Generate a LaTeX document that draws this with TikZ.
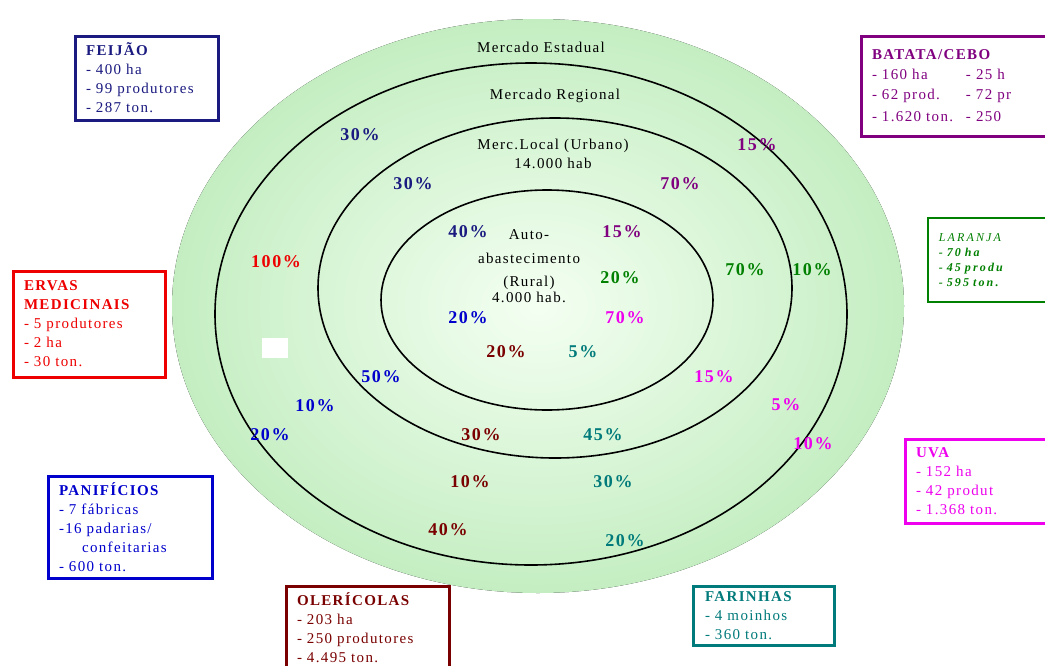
\documentclass[tikz,border=0pt]{standalone}
\usepackage{fontspec}
\setmainfont{Liberation Serif}[LetterSpace=9]
\usepackage{xcolor}
\definecolor{navy}{HTML}{1A1A80}
\definecolor{plum}{HTML}{800080}
\definecolor{leaf}{HTML}{008000}
\definecolor{herb-red}{HTML}{EE0000}
\definecolor{bread-blue}{HTML}{0000CC}
\definecolor{veg-red}{HTML}{7A0000}
\definecolor{flour-teal}{HTML}{007A7A}
\definecolor{grape}{HTML}{EE00EE}
\definecolor{mint}{HTML}{C4EEC2}
\definecolor{mint-core}{HTML}{F4FFF2}
\usepackage{tikz}
\tikzset{ring/.style = {draw, line width=1.6pt}}
\tikzset{ringlabel/.style = {align=center, font=\fontsize{15}{19}\selectfont}}
\tikzset{pct/.style = {font=\bfseries\fontsize{18}{18}\selectfont}}
\tikzset{infobox/.style = {draw, line width=3pt, anchor=north west, align=left, inner xsep=10pt, inner ysep=0pt, fill=white, font=\fontsize{15}{19}\selectfont}}

\begin{document}
\begin{tikzpicture}[x=1pt, y=-1pt]
\useasboundingbox (0,0) rectangle (1045,665);
\clip (0,0) rectangle (1045,665);

% market rings
\fill[inner color=mint-core, outer color=mint] (538,306) ellipse [x radius=366pt, y radius=287pt];
\draw[ring] (531,314) ellipse [x radius=316pt, y radius=251pt];
\draw[ring] (555,288) ellipse [x radius=237pt, y radius=170pt];
\draw[ring] (547,300) ellipse [x radius=166pt, y radius=110pt];
\fill[white] (262,338) rectangle (288,358);

\node[ringlabel] (estadual) at (541,47) {Mercado Estadual};
\node[ringlabel] (regional) at (555,96) {Mercado Regional};
\node[ringlabel] (local) at (553,154) {Merc.Local (Urbano)\\14.000 hab};
\node[ringlabel] (auto) at (529,266) {Auto-\\[5pt]abastecimento\\[4pt](Rural)\\[-3pt]4.000 hab.};

% products
\node[infobox, draw=navy, text=navy, minimum width=143pt, minimum height=84pt, text width=121pt] (feijao) at (73.5,34.5) {\textbf{FEIJÃO}\\- 400 ha\\- 99 produtores\\- 287 ton.};
\node[infobox, draw=plum, text=plum, minimum width=220pt, minimum height=100pt, text width=198pt, font=\fontsize{15}{20}\selectfont] (batata) at (859.5,34.5) {\textbf{BATATA/CEBO}\\\makebox[94pt][l]{- 160 ha}- 25 h\\\makebox[94pt][l]{- 62 prod.}- 72 pr\\[2pt]\makebox[94pt][l]{- 1.620 ton.}- 250};
\node[infobox, draw=leaf, text=leaf, line width=2.5pt, minimum width=150pt, minimum height=84pt, text width=128pt, font=\itshape\fontsize{12}{15}\selectfont\addfontfeature{LetterSpace=18}] (laranja) at (926.5,216.5) {LARANJA\\\textbf{- 70 ha}\\\textbf{- 45 produ}\\\textbf{- 595 ton.}};
\node[infobox, draw=herb-red, text=herb-red, minimum width=152pt, minimum height=106pt, text width=130pt, inner xsep=11pt] (ervas) at (11.5,269.5) {\textbf{ERVAS}\\\textbf{MEDICINAIS}\\- 5 produtores\\- 2 ha\\- 30 ton.};
\node[infobox, draw=bread-blue, text=bread-blue, minimum width=164pt, minimum height=102pt, text width=142pt] (panificios) at (46.5,474.5) {\textbf{PANIFÍCIOS}\\- 7 fábricas\\-16 padarias/\\\hspace*{23pt}confeitarias\\- 600 ton.};
\node[infobox, draw=veg-red, text=veg-red, minimum width=163pt, minimum height=84pt, text width=141pt, inner xsep=11pt] (olericolas) at (284.5,584.5) {\textbf{OLERÍCOLAS}\\- 203 ha\\- 250 produtores\\- 4.495 ton.};
\draw[veg-red, line width=3pt] (olericolas.south west) -- ++(0,20) (olericolas.south east) -- ++(0,20);
\node[infobox, draw=flour-teal, text=flour-teal, minimum width=139pt, minimum height=59pt, text width=117pt, inner xsep=12pt] (farinhas) at (691.5,584.5) {\textbf{FARINHAS}\\- 4 moinhos\\- 360 ton.};
\node[infobox, draw=grape, text=grape, minimum width=170pt, minimum height=84pt, text width=148pt] (uva) at (903.5,437.5) {\textbf{UVA}\\- 152 ha\\- 42 produt\\- 1.368 ton.};

% shares per ring
\node[pct, navy] (fe1) at (468,232) {40\%};
\node[pct, navy] (fe2) at (413,184) {30\%};
\node[pct, navy] (fe3) at (360,135) {30\%};

\node[pct, plum] (bc1) at (622,232) {15\%};
\node[pct, plum] (bc2) at (680,184) {70\%};
\node[pct, plum] (bc3) at (757,145) {15\%};

\node[pct, leaf] (la1) at (620,278) {20\%};
\node[pct, leaf] (la2) at (745,270) {70\%};
\node[pct, leaf] (la3) at (812,270) {10\%};

\node[pct, herb-red] (er1) at (276,262) {100\%};

\node[pct, bread-blue] (pa1) at (468,318) {20\%};
\node[pct, bread-blue] (pa2) at (381,377) {50\%};
\node[pct, bread-blue] (pa3) at (315,406) {10\%};
\node[pct, bread-blue] (pa4) at (270,435) {20\%};

\node[pct, veg-red] (ol1) at (506,352) {20\%};
\node[pct, veg-red] (ol2) at (481,435) {30\%};
\node[pct, veg-red] (ol3) at (470,482) {10\%};
\node[pct, veg-red] (ol4) at (448,530) {40\%};

\node[pct, flour-teal] (fa1) at (583,352) {5\%};
\node[pct, flour-teal] (fa2) at (603,435) {45\%};
\node[pct, flour-teal] (fa3) at (613,482) {30\%};
\node[pct, flour-teal] (fa4) at (625,541) {20\%};

\node[pct, grape] (uv1) at (625,318) {70\%};
\node[pct, grape] (uv2) at (714,377) {15\%};
\node[pct, grape] (uv3) at (786,405) {5\%};
\node[pct, grape] (uv4) at (813,444) {10\%};

\end{tikzpicture}
\end{document}
